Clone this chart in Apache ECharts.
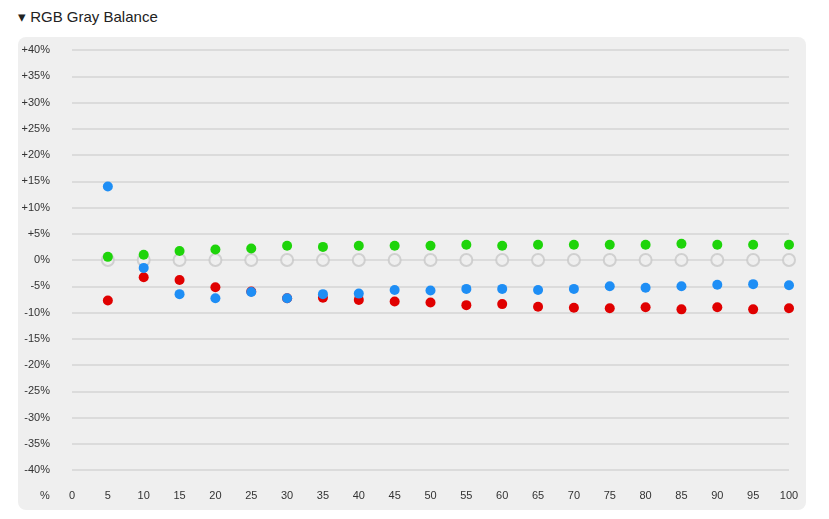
<!DOCTYPE html><html><head><meta charset="utf-8"><script src="https://cdn.jsdelivr.net/npm/echarts@6/dist/echarts.min.js"></script>
<style>body{margin:0;background:#fff;font-family:Arial,"Liberation Sans",sans-serif}#t{position:absolute;left:18px;top:8px;font-size:15px;color:#222}#p{position:absolute;left:18px;top:37px;width:788px;height:473px;background:#efefef;border-radius:8px}#c{position:absolute;left:0;top:0;width:829px;height:519px}</style></head><body>
<div id="t">▾ RGB Gray Balance</div><div id="p"></div><div id="c"></div>
<script>
const levels=[5,10,15,20,25,30,35,40,45,50,55,60,65,70,75,80,85,90,95,100];
const red=[-7.7,-3.3,-3.8,-5.2,-6.0,-7.3,-7.2,-7.6,-7.9,-8.1,-8.6,-8.4,-8.9,-9.1,-9.2,-9.0,-9.4,-9.0,-9.4,-9.2];
const green=[0.6,1.0,1.7,2.0,2.2,2.7,2.5,2.7,2.7,2.7,2.9,2.7,2.9,2.9,2.9,2.9,3.1,2.9,2.9,2.9];
const blue=[14.0,-1.5,-6.5,-7.3,-6.1,-7.3,-6.5,-6.4,-5.7,-5.8,-5.5,-5.5,-5.7,-5.5,-5.0,-5.3,-5.0,-4.7,-4.6,-4.8];
const ref=levels.map(()=>0);
const pts=a=>levels.map((x,i)=>[x,a[i]]);
const c=echarts.init(document.getElementById('c'));
const s=(d,col,z)=>({type:'scatter',data:pts(d),symbolSize:10,itemStyle:{color:col,opacity:1},z:z});
c.setOption({animation:false,
grid:{left:72,right:40,top:50,bottom:49},
xAxis:{type:'value',min:0,max:100,interval:5,axisLine:{show:false},axisTick:{show:false},splitLine:{show:false},axisLabel:{color:'#333',fontSize:11,margin:20}},
yAxis:{type:'value',min:-40,max:40,interval:5,axisLine:{show:false},axisTick:{show:false},axisLabel:{color:'#333',fontSize:11,margin:22,formatter:v=>v>0?'+'+v+'%':v+'%'},splitLine:{lineStyle:{color:'#d4d4d4',width:1.5}}},
graphic:[{type:'text',left:40,top:490,style:{text:'%',fill:'#333',font:'11px Arial'}}],
series:[{type:'scatter',data:pts(ref),symbolSize:12,itemStyle:{color:'#efefef',borderColor:'#c8c8c8',borderWidth:2},z:2},
s(red,'#e00000',3),s(green,'#1ed40a',4),s(blue,'#1e8ef5',5)]});
</script></body></html>
